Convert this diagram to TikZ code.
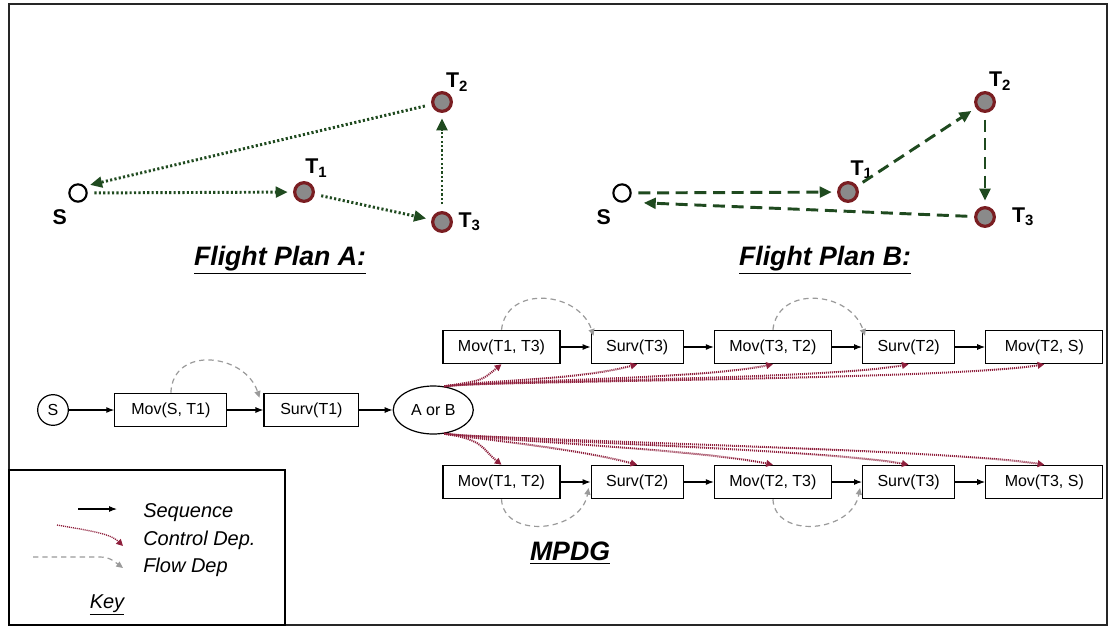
\documentclass[tikz,border=0pt]{standalone}
\usepackage{fontspec}
\setmainfont{Liberation Sans}
\usetikzlibrary{arrows.meta, positioning, shapes.geometric}
\definecolor{plangreen}{HTML}{1F4A1F}
\definecolor{ringred}  {HTML}{7A1E22}
\definecolor{dotgrey}  {HTML}{8A8A8A}
\definecolor{ctrlred}  {HTML}{8E1F3C}
\definecolor{flowgrey} {HTML}{9A9A9A}

\begin{document}
\begin{tikzpicture}[x=0.75pt, y=-0.75pt, font=\fontsize{12}{14}\selectfont,
    homept/.style={circle, draw=black, line width=1.6pt, fill=white, minimum size=13pt, inner sep=0pt},
    tgtpt/.style={circle, draw=ringred, line width=2.4pt, fill=dotgrey, minimum size=14pt, inner sep=0pt},
    ptlbl/.style={font=\fontsize{16}{16}\selectfont\bfseries, inner sep=0pt},
    planA/.style={draw=plangreen, line width=2.2pt, dash pattern=on 1.6pt off 1.7pt, -{Triangle[length=9pt,width=8pt]}, shorten <=5pt, shorten >=4pt},
    planB/.style={draw=plangreen, line width=2.2pt, dash pattern=on 9pt off 5pt, -{Triangle[length=9pt,width=8pt]}, shorten <=5pt, shorten >=4pt},
    plantitle/.style={font=\fontsize{20}{20}\selectfont\bfseries\itshape},
    box/.style={draw, line width=0.9pt, minimum width=87.75pt, minimum height=25pt, inner sep=1pt},
    survbox/.style={box, minimum width=69pt},
    seq/.style={line width=0.8pt, -{Latex[length=6pt,width=4.5pt]}},
    flow/.style={draw=flowgrey, line width=0.9pt, dash pattern=on 4pt off 3pt, -{Triangle[length=5pt,width=4.5pt]}},
    ctrl/.style={draw=ctrlred, line width=1.5pt, dash pattern=on 0.8pt off 0.7pt, -{Triangle[length=5pt,width=5pt]}},
    keytxt/.style={font=\fontsize{15}{15}\selectfont\itshape, anchor=west, inner sep=0pt}]
  \useasboundingbox (0,0) rectangle (1109,628);
  \draw[line width=2pt, black!85] (9,4) rectangle (1107,625);

  % flight plan A
  \node[homept] (sa)  at (78,193)  {};
  \node[tgtpt]  (t1a) at (304,192) {};
  \node[tgtpt]  (t2a) at (442,102) {};
  \node[tgtpt]  (t3a) at (442,222) {};
  \node[ptlbl, below left=7pt and 3pt of sa] (sal) {S};
  \node[ptlbl, above right=5pt and -5pt of t1a] (t1al) {T\textsubscript{1}};
  \node[ptlbl, above right=2pt and -3pt of t2a] (t2al) {T\textsubscript{2}};
  \node[ptlbl, right=4pt of t3a] (t3al) {T\textsubscript{3}};
  \draw[planA] (sa) -- (t1a);
  \draw[planA] (t1a) -- (t3a);
  \draw[planA] (t3a) -- (t2a);
  \draw[planA] (t2a) -- (sa.north east);
  \node[plantitle] (fpa) at (280,260) {\underline{Flight Plan A:}};

  % flight plan B
  \node[homept] (sb)  at (622,193) {};
  \node[tgtpt]  (t1b) at (848,192) {};
  \node[tgtpt]  (t2b) at (985,102) {};
  \node[tgtpt]  (t3b) at (985,217) {};
  \node[ptlbl, below left=7pt and 3pt of sb] (sbl) {S};
  \node[ptlbl, above right=4pt and -4pt of t1b] (t1bl) {T\textsubscript{1}};
  \node[ptlbl, above right=3pt and -3pt of t2b] (t2bl) {T\textsubscript{2}};
  \node[ptlbl, right=12pt of t3b] (t3bl) {T\textsubscript{3}};
  \draw[planB] (sb) -- (t1b);
  \draw[planB] (t1b) -- (t2b);
  \draw[planB] (t2b) -- (t3b);
  \draw[planB, shorten >=9pt] (t3b) -- ([yshift=-7pt]sb.east);
  \node[plantitle] (fpb) at (825,260) {\underline{Flight Plan B:}};

  % MPDG
  \node[circle, draw, line width=0.9pt, minimum size=23pt, inner sep=0pt] (sm) at (53,410) {S};
  \node[box, minimum width=84pt, right=34pt of sm] (mst1) {Mov(S, T1)};
  \node[survbox, minimum width=71pt, right=27pt of mst1] (st1) {Surv(T1)};
  \node[ellipse, draw, line width=0.9pt, minimum width=60pt, minimum height=36pt, inner sep=0pt, right=25pt of st1] (ab) {A or B};

  \node[box] (m13) at (501.5,347) {Mov(T1, T3)};
  \node[survbox, right=22.5pt of m13] (s3) {Surv(T3)};
  \node[box, right=22.5pt of s3] (m32) {Mov(T3, T2)};
  \node[survbox, right=22.5pt of m32] (s2) {Surv(T2)};
  \node[box, right=22.5pt of s2] (m2s) {Mov(T2, S)};

  \node[box] (m12) at (501.5,482) {Mov(T1, T2)};
  \node[survbox, right=22.5pt of m12] (s2b) {Surv(T2)};
  \node[box, right=22.5pt of s2b] (m23) {Mov(T2, T3)};
  \node[survbox, right=22.5pt of m23] (s3b) {Surv(T3)};
  \node[box, right=22.5pt of s3b] (m3s) {Mov(T3, S)};

  \foreach \a/\b in {sm/mst1, mst1/st1, st1/ab, m13/s3, s3/m32, m32/s2, s2/m2s, m12/s2b, s2b/m23, m23/s3b, s3b/m3s}
    \draw[seq] (\a) -- (\b);

  % flow dependences
  \draw[flow] (mst1.north) .. controls +(2,-48) and +(-14,-44) .. ([shift={(-4,5)}]st1.north west);
  \draw[flow] (m13.north) .. controls +(5,-45) and +(-15,-45) .. ([shift={(3,6)}]s3.north west);
  \draw[flow] (m32.north) .. controls +(5,-45) and +(-15,-45) .. ([shift={(3,6)}]s2.north west);
  \draw[flow] (m12.south) .. controls +(2,40) and +(-8,45) .. ([shift={(-2,6)}]s2b.west);
  \draw[flow] (m23.south) .. controls +(2,40) and +(-8,45) .. ([shift={(-2,6)}]s3b.west);

  % control dependences
  \foreach \t/\d in {m13/20, s3/60, m32/80, s2/90, m2s/100}
    \draw[ctrl] (ab.65) .. controls +(40,-6) and +(-\d,16) .. (\t.south);
  \foreach \t/\d in {m12/20, s2b/60, m23/80, s3b/90, m3s/100}
    \draw[ctrl] (ab.-65) .. controls +(40,6) and +(-\d,-16) .. (\t.north);

  \node[plantitle] (mpdg) at (570,553) {\underline{MPDG}};

  % key
  \draw[line width=1pt] (9,470) rectangle (285,625);
  \coordinate (k1a) at (78,509);
  \coordinate (k1b) at (117,509);
  \draw[seq] (k1a) -- (k1b);
  \coordinate (k2a) at (57,525);
  \coordinate (k2b) at (123,546);
  \draw[ctrl, line width=1pt] (k2a) .. controls (85,530) and (110,533) .. (k2b);
  \coordinate (k3a) at (33,557);
  \coordinate (k3b) at (123,568);
  \draw[flow] (k3a) -- (100,557) .. controls (110,557) and (115,562) .. (k3b);
  \node[keytxt] (kseq)  at (143,513) {Sequence};
  \node[keytxt] (kctrl) at (143,540) {Control Dep.};
  \node[keytxt] (kflow) at (143,567) {Flow Dep};
  \node[keytxt, anchor=center] (key) at (107,605) {\underline{Key}};
\end{tikzpicture}
\end{document}
